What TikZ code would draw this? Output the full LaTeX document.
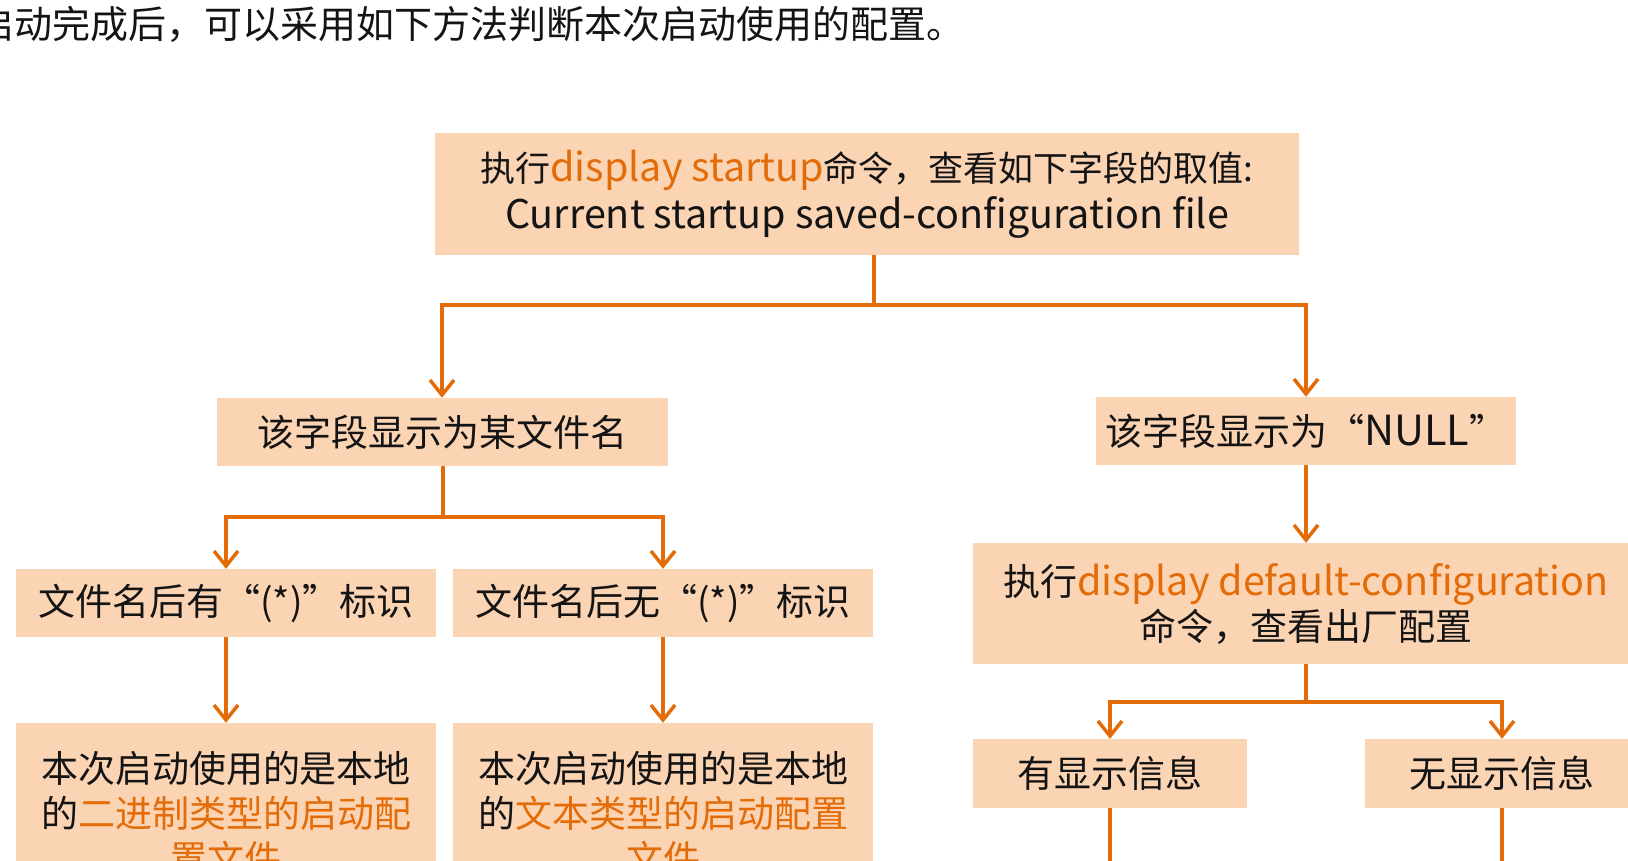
\documentclass[tikz,border=0pt]{standalone}
\usepackage{fontspec}
\setmainfont{Noto Sans CJK SC}
\usetikzlibrary{arrows.meta}
\definecolor{peach}{HTML}{FBD4B4}
\definecolor{org}{HTML}{E36C09}
\definecolor{txt}{HTML}{141414}
\newcommand{\latsz}[2]{{\fontsize{#1}{45}\selectfont #2}}
\begin{document}
\begin{tikzpicture}[x=1pt,y=-1pt,
  box/.style={fill=peach, inner sep=0pt, align=center, text=txt, font=\fontsize{37}{45}\selectfont},
  conn/.style={draw=org, line width=3.5pt},
  arr/.style={conn, -{Straight Barb[length=15pt,width=24pt]}}]
\useasboundingbox (0,0) rectangle (1628,860);
\clip (0,0) rectangle (1628,860);
\node[anchor=west, inner sep=0pt, text=txt, font=\fontsize{38}{45}\selectfont] (title) at (-24,24) {启动完成后，可以采用如下方法判断本次启动使用的配置。};
\node[box, minimum width=864pt, minimum height=122pt, font=\fontsize{35}{47}\selectfont] (top) at (867,194) {执行\textcolor{org}{\latsz{39.5}{display startup}}命令，查看如下字段的取值:\\\latsz{39.5}{Current startup saved-configuration file}};
\node[box, minimum width=451pt, minimum height=68pt] (fn) at (442,432) {该字段显示为某文件名};
\node[box, minimum width=420pt, minimum height=68pt] (null) at (1306,431) {该字段显示为“\latsz{41.5}{NULL}”};
\node[box, minimum width=420pt, minimum height=68pt] (star) at (226,603) {文件名后有“(*)”标识};
\node[box, minimum width=420pt, minimum height=68pt] (nostar) at (663,603) {文件名后无“(*)”标识};
\node[box, minimum width=420pt, minimum height=180pt] (bin) at (226,813) {本次启动使用的是本地\\的\textcolor{org}{二进制类型的启动配}\\\textcolor{org}{置文件}};
\node[box, minimum width=420pt, minimum height=180pt] (txtf) at (663,813) {本次启动使用的是本地\\的\textcolor{org}{文本类型的启动配置}\\\textcolor{org}{文件}};
\node[box, minimum width=666pt, minimum height=121pt] (def) at (1306,603.5) {执行\textcolor{org}{\latsz{39.5}{display default-configuration}}\\命令，查看出厂配置};
\node[box, minimum width=274pt, minimum height=69pt] (has) at (1110,773.5) {有显示信息};
\node[box, minimum width=274pt, minimum height=69pt] (none) at (1502,773.5) {无显示信息};
\coordinate (j1) at (874,305);
\coordinate (j2) at (443,517);
\coordinate (j3) at (1306,702);
\coordinate (hb) at (1110,880);
\coordinate (nb) at (1502,880);
\draw[conn] (top.south -| j1) -- (j1);
\draw[arr] (j1) -| (fn.north);
\draw[arr] (j1) -| (null.north);
\draw[conn] (fn.south -| j2) -- (j2);
\draw[arr] (j2) -| (star.north);
\draw[arr] (j2) -| (nostar.north);
\draw[arr] (star.south) -- (bin.north);
\draw[arr] (nostar.south) -- (txtf.north);
\draw[arr] (null.south) -- (def.north);
\draw[conn] (def.south) -- (j3);
\draw[arr] (j3) -| (has.north);
\draw[arr] (j3) -| (none.north);
\draw[conn] (has.south) -- (hb);
\draw[conn] (none.south) -- (nb);
\end{tikzpicture}
\end{document}
